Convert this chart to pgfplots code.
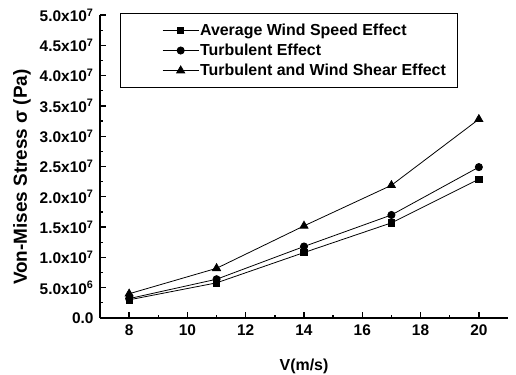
\documentclass[border=0pt]{standalone}
\usepackage{fontspec}
\setmainfont{Liberation Sans}
\usepackage{pgfplots}
\pgfplotsset{compat=1.18}
\begin{document}
\begin{tikzpicture}
\begin{axis}[
  scale only axis,
  width=408bp, height=303bp,
  xmin=7, xmax=21, ymin=0, ymax=5e7,
  axis x line*=bottom, axis y line*=left,
  axis line style={line width=1.6pt},
  xtick={8,10,...,20}, minor x tick num=1,
  ytick={0,5e6,1e7,1.5e7,2e7,2.5e7,3e7,3.5e7,4e7,4.5e7,5e7},
  yticklabels={0.0,5.0x10\textsuperscript{6},1.0x10\textsuperscript{7},1.5x10\textsuperscript{7},2.0x10\textsuperscript{7},2.5x10\textsuperscript{7},3.0x10\textsuperscript{7},3.5x10\textsuperscript{7},4.0x10\textsuperscript{7},4.5x10\textsuperscript{7},5.0x10\textsuperscript{7}},
  minor y tick num=1,
  scaled y ticks=false,
  major tick length=6bp, minor tick length=3.5bp,
  tick style={line width=1.3pt, black},
  /pgf/number format/assume math mode=true,
  ticklabel style={font=\fontsize{15.5}{17}\selectfont\bfseries},
  xticklabel style={yshift=-3bp},
  yticklabel style={xshift=-3bp},
  xlabel={V(m/s)},
  ylabel={Von-Mises Stress σ (Pa)},
  xlabel style={font=\fontsize{16}{18}\selectfont\bfseries, at={(axis description cs:0.5,-0.16)}, anchor=center},
  ylabel style={font=\fontsize{19}{21}\selectfont\bfseries, at={(axis description cs:-0.191,0.465)}, anchor=center},
  legend style={at={(rel axis cs:0.049,1.006)}, anchor=north west, draw=black, line width=0.6pt,
    font=\fontsize{16}{18}\selectfont\bfseries, row sep=3bp, inner ysep=8.5bp, inner xsep=10bp,
    nodes={inner xsep=1bp}},
  legend cell align=left,
  legend image code/.code={%
    \draw[opacity=0] (-10bp,0) -- (58bp,0);
    \draw[line width=0.8pt] (22bp,0) -- (58bp,0);
    \draw[#1, line width=0.8pt] plot coordinates {(40bp,0)};
  },
]
\addplot[black, line width=0.8pt, mark=square*, mark size=3.2bp] coordinates {
(8,3.0e6) (11,5.8e6) (14,1.08e7) (17,1.57e7) (20,2.29e7)};
\addlegendentry{Average Wind Speed Effect}
\addplot[black, line width=0.8pt, mark=*, mark size=3.6bp] coordinates {
(8,3.2e6) (11,6.4e6) (14,1.18e7) (17,1.70e7) (20,2.49e7)};
\addlegendentry{Turbulent Effect}
\addplot[black, line width=0.8pt, mark=triangle*, mark size=4.6bp] coordinates {
(8,4.0e6) (11,8.2e6) (14,1.52e7) (17,2.19e7) (20,3.28e7)};
\addlegendentry{Turbulent and Wind Shear Effect}
\end{axis}
\pgfresetboundingbox
\path (current axis.south west) ++(-100bp,-57bp) rectangle ++(516bp,375bp);
\end{tikzpicture}
\end{document}
